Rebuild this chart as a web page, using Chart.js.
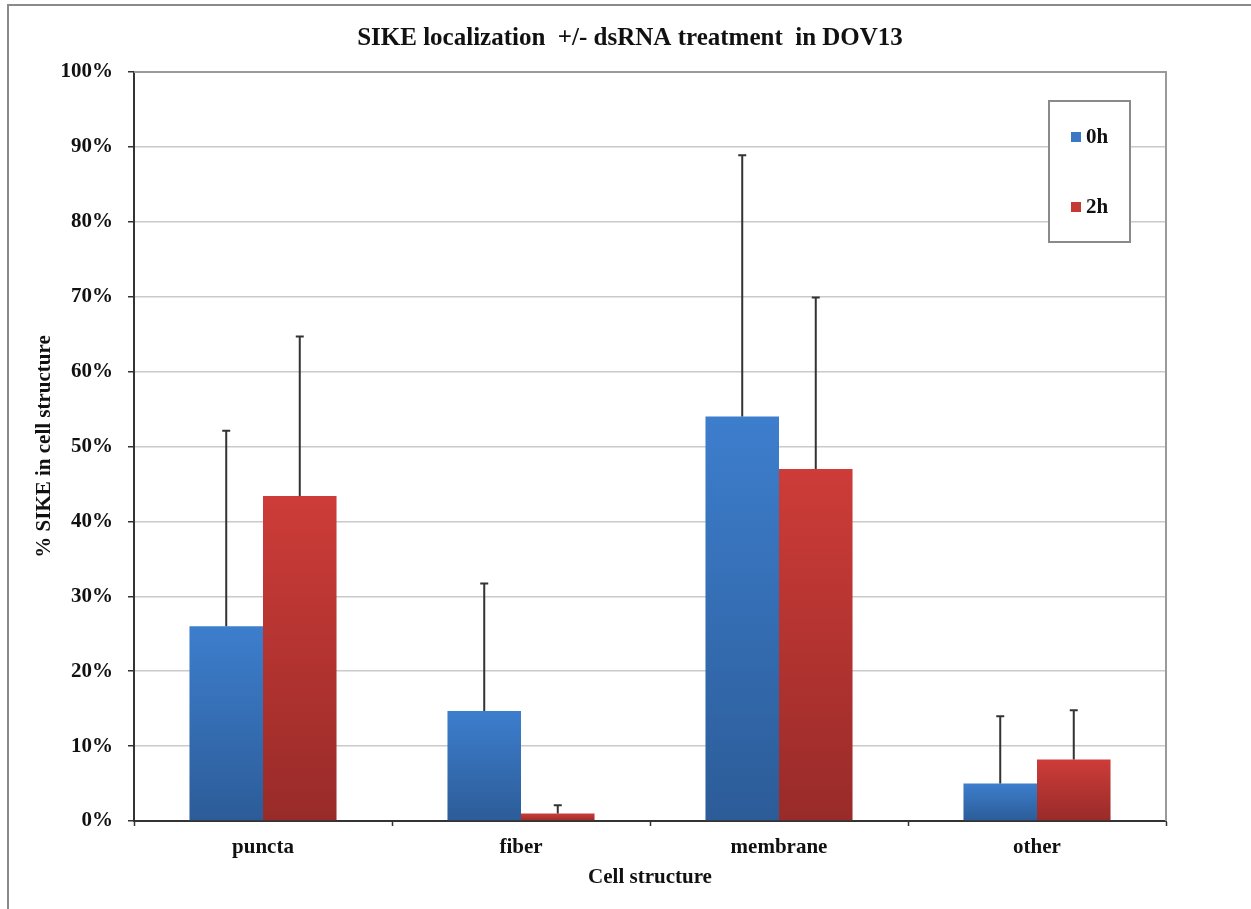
<!DOCTYPE html>
<html>
<head>
<meta charset="utf-8">
<script src="https://cdn.jsdelivr.net/npm/chart.js@4.4.1/dist/chart.umd.min.js"></script>
<style>
    html, body { margin: 0; padding: 0; background: #ffffff; }
    #wrap { width: 1251px; height: 909px; position: relative; }
</style>
</head>
<body>
<div id="wrap"><canvas id="locChart"></canvas></div>
<script>
const categories = ['puncta', 'fiber', 'membrane', 'other'];
const seriesNames = ['0h', '2h'];
const values0h = [26.0, 14.7, 54.0, 5.0];
const values2h = [43.4, 1.0, 47.0, 8.2];
const errors0h = [26.1, 17.0, 34.9, 9.0];
const errors2h = [21.3, 1.1, 22.9, 6.6];
const yTicks = [0, 10, 20, 30, 40, 50, 60, 70, 80, 90, 100];
const chartTitle = 'SIKE localization  +/- dsRNA treatment  in DOV13';

const serif = "'Liberation Serif', 'Times New Roman', serif";
const darkLine = '#333333';
const textColor = '#111111';

// vertical gradient per bar, lighter at the top
function barGradient(top, bottom) {
    return (ctx) => {
        const chart = ctx.chart;
        if (!chart.chartArea || ctx.raw == null) return bottom;
        const y = chart.scales.y;
        const yTop = y.getPixelForValue(ctx.raw);
        const yBot = y.getPixelForValue(0);
        if (!isFinite(yTop) || yBot - yTop < 1) return top;
        const g = chart.ctx.createLinearGradient(0, yTop, 0, yBot);
        g.addColorStop(0, top);
        g.addColorStop(1, bottom);
        return g;
    };
}

const errorBars = {
    id: 'errorBars',
    afterDatasetsDraw(chart) {
        const ctx = chart.ctx;
        const y = chart.scales.y;
        chart.data.datasets.forEach((ds, i) => {
            const meta = chart.getDatasetMeta(i);
            meta.data.forEach((bar, j) => {
                const top = y.getPixelForValue(ds.data[j] + ds.errors[j]);
                ctx.save();
                ctx.strokeStyle = darkLine;
                ctx.lineWidth = 2;
                ctx.beginPath();
                ctx.moveTo(bar.x, bar.y);
                ctx.lineTo(bar.x, top);
                ctx.moveTo(bar.x - 4, top);
                ctx.lineTo(bar.x + 4, top);
                ctx.stroke();
                ctx.restore();
            });
        });
    }
};

const frame = {
    id: 'frame',
    beforeDraw(chart) {
        const ctx = chart.ctx;
        ctx.save();
        ctx.strokeStyle = '#8a8a8a';
        ctx.lineWidth = 2;
        ctx.beginPath();
        ctx.moveTo(8, chart.height);
        ctx.lineTo(8, 5);
        ctx.lineTo(chart.width, 5);
        ctx.stroke();
        // title, centred on the whole page width
        ctx.fillStyle = textColor;
        ctx.font = 'bold 25px ' + serif;
        ctx.textAlign = 'center';
        ctx.textBaseline = 'middle';
        ctx.fillText(chartTitle, 630, 39);
        ctx.restore();
    },
    beforeDatasetsDraw(chart) {
        // top and right edges of the plot area
        const a = chart.chartArea;
        const ctx = chart.ctx;
        ctx.save();
        ctx.strokeStyle = '#9a9a9a';
        ctx.lineWidth = 2;
        ctx.beginPath();
        ctx.moveTo(a.left, a.top);
        ctx.lineTo(a.right, a.top);
        ctx.lineTo(a.right, a.bottom);
        ctx.stroke();
        ctx.restore();
    }
};

const boxLegend = {
    id: 'boxLegend',
    afterDraw(chart) {
        const ctx = chart.ctx;
        const x = 1049, y = 101, w = 81, h = 141;
        ctx.save();
        ctx.fillStyle = '#ffffff';
        ctx.fillRect(x, y, w, h);
        ctx.strokeStyle = '#8a8a8a';
        ctx.lineWidth = 2;
        ctx.strokeRect(x, y, w, h);
        ctx.font = 'bold 21px ' + serif;
        ctx.textBaseline = 'middle';
        const rows = [137, 207];
        const swatch = ['#3a78c6', '#c63a36'];
        chart.data.datasets.forEach((ds, i) => {
            ctx.fillStyle = swatch[i];
            ctx.fillRect(1071, rows[i] - 5, 10, 10);
            ctx.fillStyle = textColor;
            ctx.fillText(ds.label, 1086, rows[i] + 1);
        });
        ctx.restore();
    }
};

new Chart(document.getElementById('locChart'), {
    type: 'bar',
    data: {
        labels: categories,
        datasets: [{
            label: seriesNames[0],
            data: values0h,
            errors: errors0h,
            backgroundColor: barGradient('#3d7ecd', '#2c5c98'),
            borderWidth: 0
        }, {
            label: seriesNames[1],
            data: values2h,
            errors: errors2h,
            backgroundColor: barGradient('#cd3c38', '#982b29'),
            borderWidth: 0
        }]
    },
    options: {
        responsive: true,
        maintainAspectRatio: false,
        animation: false,
        layout: { padding: { left: 0, right: 85, top: 72, bottom: 0 } },
        datasets: {
            bar: { categoryPercentage: 0.57, barPercentage: 1.0 }
        },
        plugins: {
            legend: { display: false },
            tooltip: { enabled: false },
            title: { display: false }
        },
        scales: {
            x: {
                afterFit: (s) => { s.height = 88; },
                grid: {
                    display: true,
                    drawOnChartArea: false,
                    drawTicks: true,
                    offset: true,
                    tickLength: 5,
                    tickColor: darkLine,
                    tickWidth: 1.5
                },
                border: { color: darkLine, width: 2 },
                ticks: {
                    color: textColor,
                    padding: 9,
                    font: { family: serif, size: 21, weight: 'bold' }
                },
                title: {
                    display: true,
                    text: 'Cell structure',
                    color: textColor,
                    font: { family: serif, size: 21, weight: 'bold' },
                    padding: { top: 0, bottom: 19 }
                }
            },
            y: {
                min: 0,
                max: 100,
                afterFit: (s) => { s.width = 134; },
                afterBuildTicks: (s) => { s.ticks = yTicks.map(v => ({ value: v })); },
                grid: {
                    color: '#cacaca',
                    lineWidth: 1.5,
                    tickLength: 6,
                    tickColor: darkLine,
                    tickWidth: 1.5
                },
                border: { color: darkLine, width: 2 },
                ticks: {
                    color: textColor,
                    padding: 15,
                    font: { family: serif, size: 21, weight: 'bold' },
                    callback: (v) => v + '%'
                },
                title: {
                    display: true,
                    text: '% SIKE in cell structure',
                    color: textColor,
                    font: { family: serif, size: 21, weight: 'bold' },
                    padding: { top: 32, bottom: 0 }
                }
            }
        }
    },
    plugins: [frame, errorBars, boxLegend]
});
</script>
</body>
</html>
